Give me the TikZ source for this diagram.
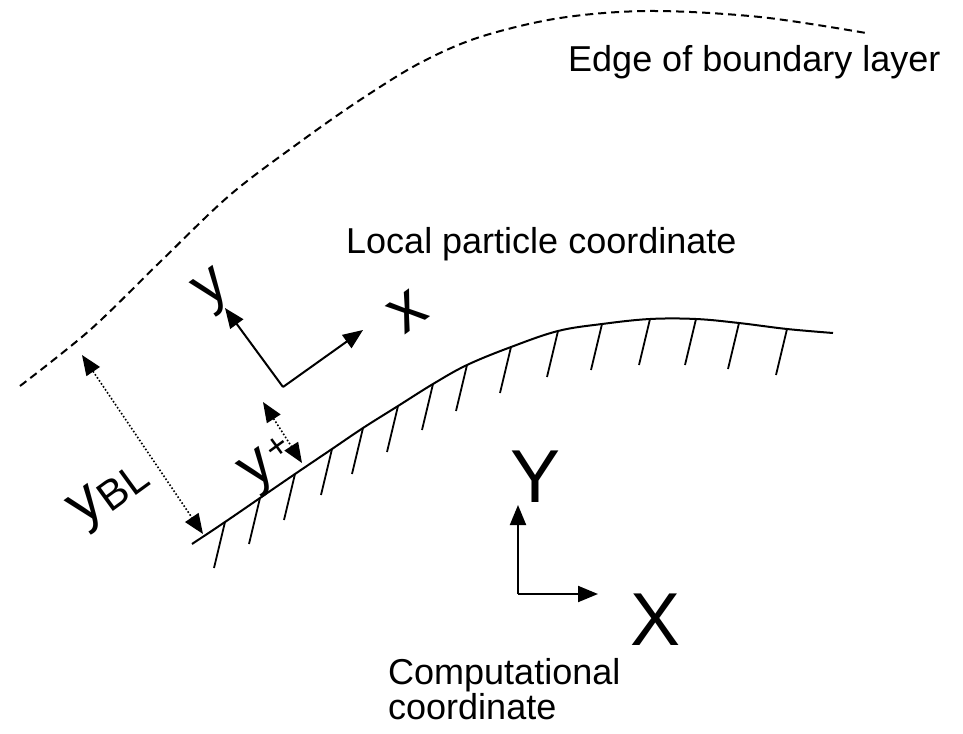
\documentclass[tikz,border=0pt]{standalone}
\usepackage{fontspec}
\setmainfont{Liberation Sans}
\usetikzlibrary{arrows.meta}

\newcommand{\lowtext}[1]{\raisebox{-0.1em}{\fontsize{42}{42}\selectfont #1}}
\newcommand{\hightext}[1]{\kern0.06em\raisebox{0.16em}{\fontsize{36}{36}\selectfont #1}}

\begin{document}
\begin{tikzpicture}[x=1pt, y=-1pt, >={Triangle[length=20pt, width=16pt]},
    every node/.style={inner sep=0pt, font=\fontsize{36}{35}\selectfont},
    wall/.style={line width=2pt},
    hatch/.style={line width=1.8pt},
    axis/.style={->, line width=2pt},
    gap/.style={<->, line width=1.6pt, dash pattern=on 1.6pt off 2pt},
    bledge/.style={line width=2pt, dash pattern=on 8pt off 5pt},
    big/.style={font=\fontsize{75}{75}\selectfont},
    tilted/.style={rotate=36, font=\fontsize{60}{60}\selectfont},
]
\useasboundingbox (0,0) rectangle (963,733);

% edge of the boundary layer
\draw[bledge] plot[smooth, tension=0.55] coordinates {(20,386) (90,330) (160,262) (230,195) (300,142)
    (360,100) (420,63) (480,37) (560,18) (650,11) (760,17) (866,33)};
\node[anchor=base west] (edgelab) at (568,72) {Edge of boundary layer};

% wall with hatching
\draw[wall] plot[smooth, tension=0.6] coordinates {(192,544) (225,522) (260,498) (295,474) (332,449)
    (363,428) (398,406) (433,384) (467,365) (511,347) (558,331) (602,324) (650,319) (696,319)
    (739,323) (787,329) (833,333)};
\foreach \px/\py in {225/522, 260/498, 295/474, 332/449, 363/428, 398/406, 433/384, 467/365,
    511/347, 558/331, 602/324, 650/319, 696/319, 739/323, 787/329}
  \draw[hatch] (\px,\py) -- ++(-11,46);

% local particle coordinate
\node[anchor=base west] (locallab) at (346,253) {Local particle coordinate};
\coordinate (lo) at (283,387);
\coordinate (ly) at (225,308);
\coordinate (lx) at (363,330);
\draw[axis] (lo) -- (ly);
\draw[axis] (lo) -- (lx);
\node[tilted] (ylab) at (214,292) {y};
\node[tilted, font=\fontsize{66}{66}\selectfont] (xlab) at (408,312) {x};

% distances to the wall
\coordinate (bltop) at (82,355);
\coordinate (blbot) at (203,534);
\coordinate (yptop) at (263,402);
\coordinate (ypbot) at (302,463);
\draw[gap] (bltop) -- (blbot);
\draw[gap] (yptop) -- (ypbot);
\node[tilted] (ybl) at (110,495) {y\lowtext{BL}};
\node[tilted] (yplus) at (270,466) {y\hightext{+}};

% computational coordinate
\coordinate (co) at (518,594);
\coordinate (cy) at (518,505);
\coordinate (cx) at (598,594);
\draw[axis] (co) -- (cy);
\draw[axis] (co) -- (cx);
\node[big, anchor=base west] (cylab) at (510,502) {Y};
\node[big, anchor=base west] (cxlab) at (630,645) {X};
\node[anchor=north west, align=left] (complab) at (388,658) {Computational\\coordinate};

\end{tikzpicture}
\end{document}
